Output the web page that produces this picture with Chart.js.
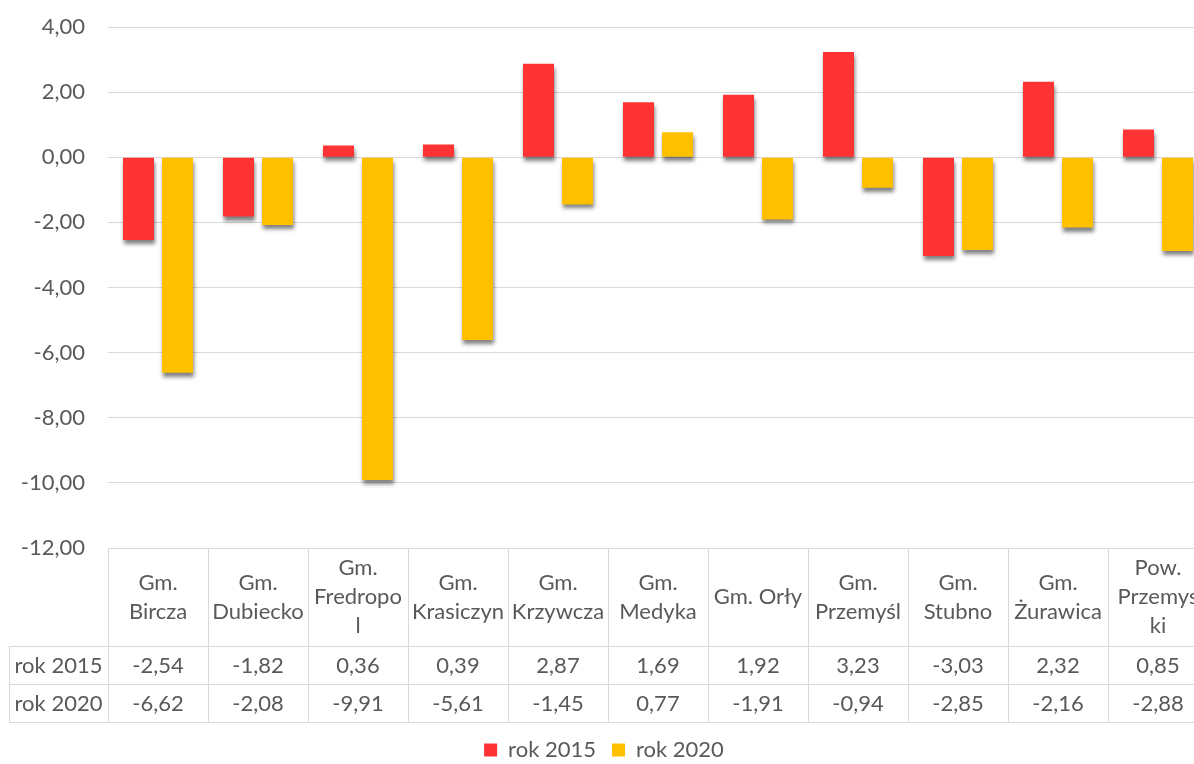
<!DOCTYPE html>
<html><head><meta charset="utf-8">
<script src="https://cdn.jsdelivr.net/npm/chart.js@4.4.1/dist/chart.umd.min.js"></script>
<style>
html,body{margin:0;padding:0;background:#fff;overflow:hidden;}
#wrap{width:1194px;height:764px;overflow:hidden;position:relative;}
canvas{display:block;}
</style></head><body>
<div id="wrap"><canvas id="c" width="1210" height="764"></canvas></div>
<script>
const categories = [["Gm.","Bircza"],["Gm.","Dubiecko"],["Gm.","Fredropo","l"],["Gm.","Krasiczyn"],["Gm.","Krzywcza"],["Gm.","Medyka"],["Gm. Orły"],["Gm.","Przemyśl"],["Gm.","Stubno"],["Gm.","Żurawica"],["Pow.","Przemys","ki"]];
const series2015 = [-2.54,-1.82,0.36,0.39,2.87,1.69,1.92,3.23,-3.03,2.32,0.85];
const series2020 = [-6.62,-2.08,-9.91,-5.61,-1.45,0.77,-1.91,-0.94,-2.85,-2.16,-2.88];
const seriesNames = ["rok 2015","rok 2020"];
const yTicks = [4,2,0,-2,-4,-6,-8,-10,-12];

const fmt = v => v.toFixed(2).replace('.', ',');
const FONT = 'Lato';
const TXT = '#595959';
const GRID = '#d9d9d9';

const shadowPlugin = {
  id:'barShadow',
  beforeDatasetsDraw(chart){ const ctx=chart.ctx; ctx.save(); ctx.shadowColor='rgba(0,0,0,0.5)'; ctx.shadowBlur=4; ctx.shadowOffsetX=1; ctx.shadowOffsetY=4; },
  afterDatasetsDraw(chart){ chart.ctx.restore(); }
};

const legendShift = { id:'legendShift', afterLayout(chart){ const l=chart.legend; if(l){ l.top+=7; l.bottom+=7; } } };

const tablePlugin = {
  id:'dataTable',
  afterDraw(chart){
    const {ctx, chartArea, scales:{x}} = chart;
    const n = categories.length;
    const half = (x.getPixelForValue(1)-x.getPixelForValue(0))/2;
    const left = x.getPixelForValue(0)-half;
    const right = x.getPixelForValue(n-1)+half;
    const top = Math.round(chartArea.bottom);
    const headerBottom = top + 98;
    const rowH = 38;
    const rowLeft = 9;
    const p = v => Math.round(v)+0.5;
    ctx.save();
    ctx.strokeStyle = GRID; ctx.lineWidth = 1;
    ctx.beginPath();
    ctx.moveTo(p(left), p(top)); ctx.lineTo(right, p(top));
    for (let r=0;r<=2;r++){ const yy=p(headerBottom + r*rowH); ctx.moveTo(p(rowLeft), yy); ctx.lineTo(right, yy); }
    ctx.moveTo(p(rowLeft), p(headerBottom)); ctx.lineTo(p(rowLeft), p(headerBottom+2*rowH));
    for (let i=0;i<=n;i++){ const xx=p(left + i*half*2); ctx.moveTo(xx, p(top)); ctx.lineTo(xx, p(headerBottom+2*rowH)); }
    ctx.stroke();
    ctx.fillStyle = TXT;
    ctx.font = '22px ' + FONT;
    ctx.textAlign = 'center';
    ctx.textBaseline = 'middle';
    const lh = 29;
    const hc = (top + headerBottom)/2;
    categories.forEach((lines,i)=>{
      const cx = x.getPixelForValue(i);
      const y0 = hc - (lines.length-1)*lh/2;
      lines.forEach((t,k)=>ctx.fillText(t, cx, y0 + k*lh));
    });
    const rows = [series2015, series2020];
    rows.forEach((vals,r)=>{
      const cy = headerBottom + r*rowH + rowH/2 + 1;
      ctx.fillText(seriesNames[r], (rowLeft+left)/2, cy);
      vals.forEach((v,i)=>ctx.fillText(fmt(v), x.getPixelForValue(i), cy));
    });
    ctx.restore();
  }
};

new Chart(document.getElementById('c'), {
  type:'bar',
  data:{
    labels: categories,
    datasets:[
      {label:seriesNames[0], data:series2015, backgroundColor:'#FF3333', borderWidth:0, categoryPercentage:0.78, barPercentage:0.795},
      {label:seriesNames[1], data:series2020, backgroundColor:'#FFC000', borderWidth:0, categoryPercentage:0.78, barPercentage:0.795}
    ]
  },
  options:{
    responsive:false, animation:false, devicePixelRatio:1,
    layout:{padding:{top:27,right:2,left:0,bottom:0}},
    plugins:{
      legend:{position:'bottom', labels:{font:{family:FONT,size:22}, color:TXT, boxWidth:13, boxHeight:13, padding:16}},
      tooltip:{enabled:false}
    },
    scales:{
      x:{ ticks:{display:false}, grid:{display:false}, border:{display:false}, afterFit(s){ s.height = 168; } },
      y:{ min:-12, max:4,
          afterBuildTicks(s){ s.ticks = yTicks.map(v=>({value:v})); },
          ticks:{color:TXT, font:{family:FONT,size:22}, padding:23, callback:v=>fmt(v)},
          grid:{color:GRID, drawTicks:false, lineWidth:1},
          border:{display:false},
          afterFit(s){ s.width = 108; s.paddingTop = 0; s.paddingBottom = 0; } }
    }
  },
  plugins:[shadowPlugin, tablePlugin, legendShift]
});
</script>
</body></html>
